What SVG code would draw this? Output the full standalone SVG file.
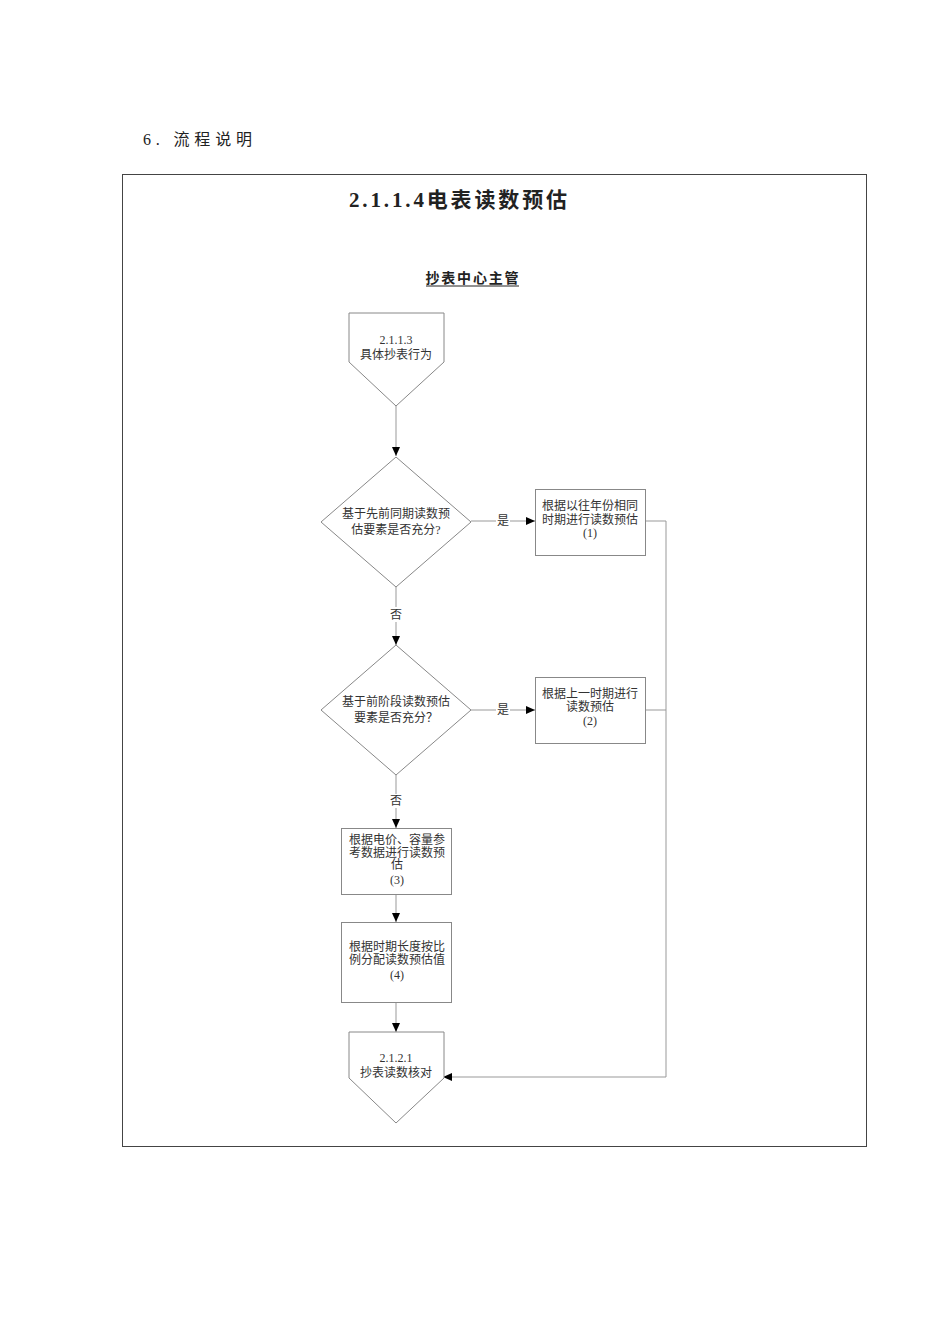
<svg xmlns="http://www.w3.org/2000/svg" width="950" height="1344" viewBox="0 0 950 1344">
<style>
text{font-family:"Liberation Serif","Noto Sans CJK SC",serif;fill:#333;}
.n{font-size:12px;text-anchor:middle;}
.shape{fill:#fff;stroke:#888;stroke-width:1;}
.ln{fill:none;stroke:#999;stroke-width:1;}
.lbl{font-size:12px;text-anchor:middle;}
</style>
<defs>
<marker id="ah" markerWidth="10" markerHeight="10" refX="9" refY="5" orient="auto" markerUnits="userSpaceOnUse">
<path d="M0,1 L9,5 L0,9 Z" fill="#000"/>
</marker>
</defs>
<rect width="950" height="1344" fill="#fff"/>
<text x="143" y="145" font-size="16" textLength="109" style="fill:#222">6. 流程说明</text>
<rect x="122.5" y="174.5" width="744" height="972" fill="none" stroke="#444" stroke-width="1"/>
<text x="458" y="207" font-size="21" font-weight="bold" text-anchor="middle" textLength="218" style="fill:#222">2.1.1.4电表读数预估</text>
<text x="472" y="283" font-size="14" font-weight="bold" text-anchor="middle" textLength="93" style="fill:#222">抄表中心主管</text>
<line x1="426" y1="286" x2="519" y2="286" stroke="#222" stroke-width="1"/>

<g id="connectors">
<line class="ln" x1="396" y1="406" x2="396" y2="456" marker-end="url(#ah)"/>
<line class="ln" x1="471" y1="521" x2="496" y2="521"/>
<line class="ln" x1="510" y1="521" x2="535" y2="521" marker-end="url(#ah)"/>
<text class="lbl" x="503" y="525">是</text>
<line class="ln" x1="396" y1="587" x2="396" y2="607"/>
<line class="ln" x1="396" y1="622" x2="396" y2="645" marker-end="url(#ah)"/>
<text class="lbl" x="396" y="619">否</text>
<line class="ln" x1="471" y1="710" x2="496" y2="710"/>
<line class="ln" x1="510" y1="710" x2="535" y2="710" marker-end="url(#ah)"/>
<text class="lbl" x="503" y="714">是</text>
<line class="ln" x1="396" y1="775" x2="396" y2="794"/>
<line class="ln" x1="396" y1="808" x2="396" y2="828" marker-end="url(#ah)"/>
<text class="lbl" x="396" y="805">否</text>
<line class="ln" x1="396" y1="894" x2="396" y2="922" marker-end="url(#ah)"/>
<line class="ln" x1="396" y1="1002" x2="396" y2="1032" marker-end="url(#ah)"/>
<polyline class="ln" points="645,521 666,521 666,1077 443,1077" marker-end="url(#ah)"/>
<line class="ln" x1="645" y1="710" x2="666" y2="710"/>
</g>

<g id="start">
<polygon class="shape" points="349,313 444,313 444,362 396,406 349,362"/>
<text class="n" x="396" y="344">2.1.1.3</text>
<text class="n" x="396" y="359">具体抄表行为</text>
</g>

<g id="decision1">
<polygon class="shape" points="396,457 471,522 396,587 321,522"/>
<text class="n" x="396" y="518">基于先前同期读数预</text>
<text class="n" x="396" y="534">估要素是否充分?</text>
</g>

<g id="step1">
<rect class="shape" x="535.5" y="489.5" width="110" height="66"/>
<text class="n" x="590" y="510">根据以往年份相同</text>
<text class="n" x="590" y="524">时期进行读数预估</text>
<text class="n" x="590" y="537">(1)</text>
</g>

<g id="decision2">
<polygon class="shape" points="396,645 471,710 396,775 321,710"/>
<text class="n" x="396" y="706">基于前阶段读数预估</text>
<text class="n" x="396" y="722">要素是否充分？</text>
</g>

<g id="step2">
<rect class="shape" x="535.5" y="677.5" width="110" height="66"/>
<text class="n" x="590" y="698">根据上一时期进行</text>
<text class="n" x="590" y="711">读数预估</text>
<text class="n" x="590" y="725">(2)</text>
</g>

<g id="step3">
<rect class="shape" x="341.5" y="828.5" width="110" height="66"/>
<text class="n" x="397" y="844">根据电价、容量参</text>
<text class="n" x="397" y="857">考数据进行读数预</text>
<text class="n" x="397" y="869">估</text>
<text class="n" x="397" y="884">(3)</text>
</g>

<g id="step4">
<rect class="shape" x="341.5" y="922.5" width="110" height="80"/>
<text class="n" x="397" y="951">根据时期长度按比</text>
<text class="n" x="397" y="964">例分配读数预估值</text>
<text class="n" x="397" y="979">(4)</text>
</g>

<g id="end">
<polygon class="shape" points="349,1032 444,1032 444,1078 396,1123 349,1078"/>
<text class="n" x="396" y="1062">2.1.2.1</text>
<text class="n" x="396" y="1077">抄表读数核对</text>
</g>
</svg>
